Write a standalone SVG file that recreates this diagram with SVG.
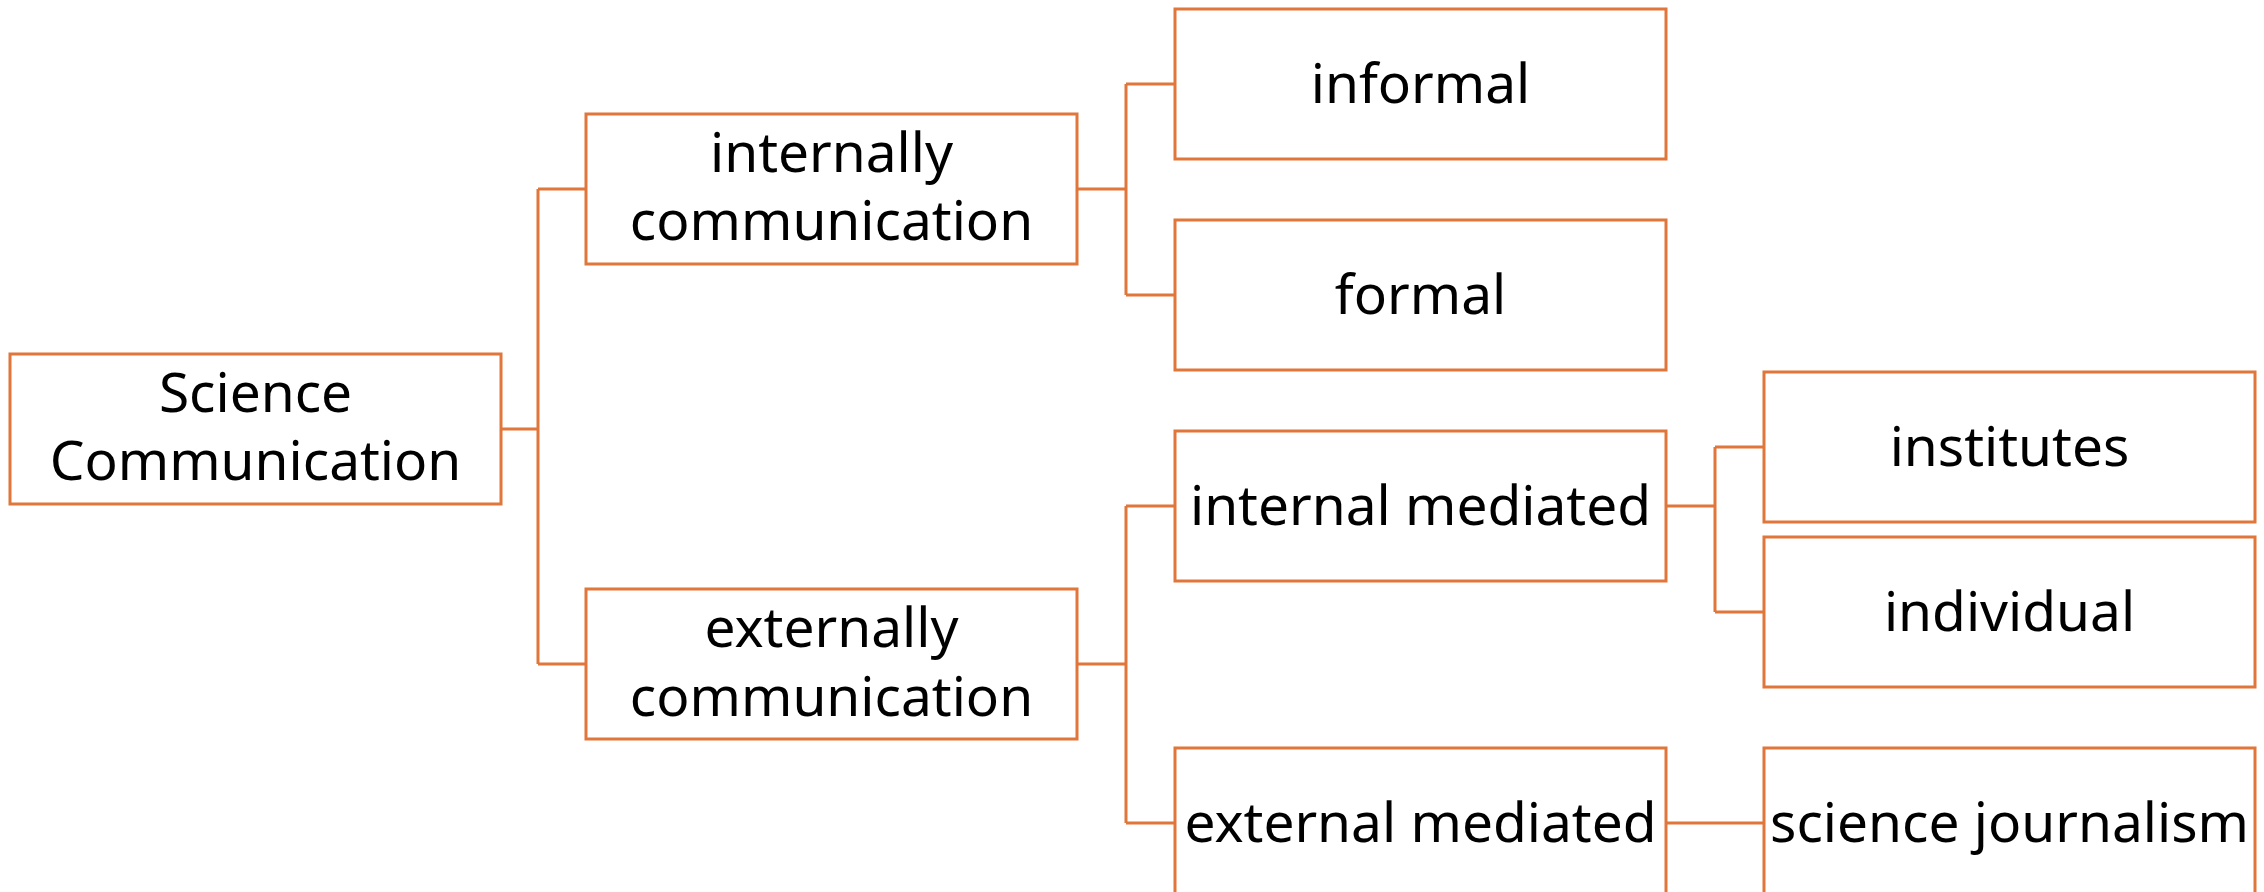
<svg xmlns="http://www.w3.org/2000/svg" width="2264" height="892" viewBox="0 0 2264 892">
<style>
.box{fill:#fff;stroke:#E0763A;stroke-width:3}
.lbl{font-family:"Noto Sans","Open Sans",sans-serif;font-size:55px;fill:#000;text-anchor:middle}
.con{fill:none;stroke:#E0763A;stroke-width:3}
</style>
<rect width="2264" height="892" fill="#fff"/>
<g id="connectors">
<path class="con" d="M501,429 H538 M538,189 V664 M538,189 H586 M538,664 H586"/>
<path class="con" d="M1077,189 H1126 M1126,84 V295 M1126,84 H1175 M1126,295 H1175"/>
<path class="con" d="M1077,664 H1126 M1126,506 V823 M1126,506 H1175 M1126,823 H1175"/>
<path class="con" d="M1666,506 H1715 M1715,447 V612 M1715,447 H1764 M1715,612 H1764"/>
<path class="con" d="M1666,823 H1764"/>
</g>
<g id="science-communication"><rect class="box" x="10" y="354" width="491" height="150"/><text class="lbl" x="255.5" y="412">Science</text><text class="lbl" x="255.5" y="480">Communication</text></g>
<g id="internally-communication"><rect class="box" x="586" y="114" width="491" height="150"/><text class="lbl" x="831.5" y="172">internally</text><text class="lbl" x="831.5" y="240">communication</text></g>
<g id="externally-communication"><rect class="box" x="586" y="589" width="491" height="150"/><text class="lbl" x="831.5" y="647">externally</text><text class="lbl" x="831.5" y="716">communication</text></g>
<g id="informal"><rect class="box" x="1175" y="9" width="491" height="150"/><text class="lbl" x="1420.5" y="103">informal</text></g>
<g id="formal"><rect class="box" x="1175" y="220" width="491" height="150"/><text class="lbl" x="1420.5" y="314">formal</text></g>
<g id="internal-mediated"><rect class="box" x="1175" y="431" width="491" height="150"/><text class="lbl" x="1420.5" y="525">internal mediated</text></g>
<g id="external-mediated"><rect class="box" x="1175" y="748" width="491" height="150"/><text class="lbl" x="1420.5" y="842">external mediated</text></g>
<g id="institutes"><rect class="box" x="1764" y="372" width="491" height="150"/><text class="lbl" x="2009.5" y="466">institutes</text></g>
<g id="individual"><rect class="box" x="1764" y="537" width="491" height="150"/><text class="lbl" x="2009.5" y="631">individual</text></g>
<g id="science-journalism"><rect class="box" x="1764" y="748" width="491" height="150"/><text class="lbl" x="2009.5" y="842">science journalism</text></g>
</svg>
